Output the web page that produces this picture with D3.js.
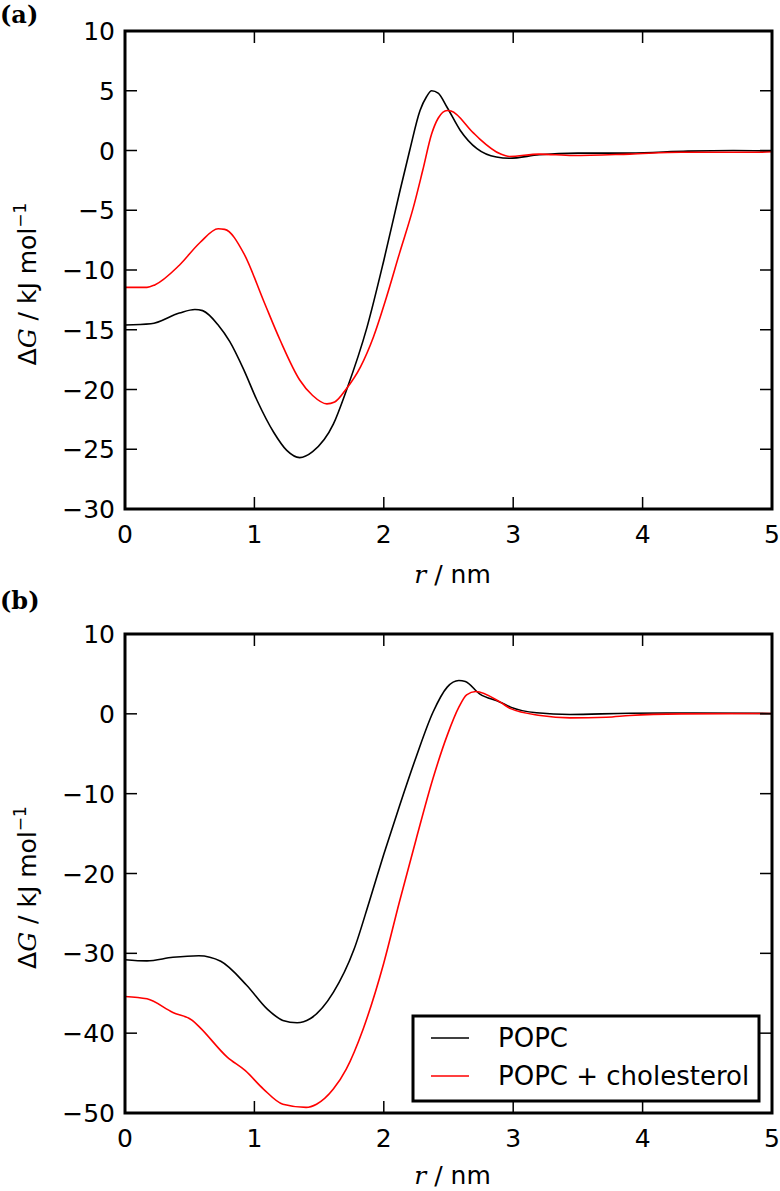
<!DOCTYPE html>
<html lang="en">
  <head>
    <meta charset="UTF-8" />
    <title>Free energy profiles</title>
    <script src="https://d3js.org/d3.v7.min.js"></script>
  </head>
  <style>
    body { margin: 0; background: white; }
    .curve { fill: none; stroke-width: 1.6; }
  </style>
  <body>
    <div id="chart"></div>
  </body>

  <script>
    // values: r in nm, dG in kJ/mol

    // panel (a)
    const rA_popc = [0, 0.2, 0.42, 0.54, 0.6, 0.72, 0.81, 0.92, 1.02, 1.15, 1.25, 1.35, 1.45, 1.61, 1.71, 1.87, 2.0, 2.12, 2.2, 2.28, 2.33, 2.37, 2.42, 2.49, 2.59, 2.72, 2.87, 2.97, 3.2, 3.5, 3.9, 4.35, 4.7, 5.0];
    const gA_popc = [-14.6, -14.5, -13.6, -13.3, -13.4, -14.6, -16.0, -18.4, -20.9, -23.6, -25.1, -25.7, -25.2, -22.9, -20.1, -14.8, -9.2, -3.6, 0, 3.35, 4.5, 5.0, 4.8, 3.6, 1.7, 0.15, -0.55, -0.65, -0.36, -0.22, -0.22, -0.05, 0.0, -0.05];

    const rA_chol = [0, 0.17, 0.23, 0.42, 0.58, 0.72, 0.77, 0.92, 1.07, 1.2, 1.35, 1.45, 1.56, 1.62, 1.71, 1.82, 1.92, 2.02, 2.12, 2.23, 2.3, 2.37, 2.42, 2.49, 2.52, 2.69, 2.74, 2.9, 2.97, 3.2, 3.46, 3.9, 4.3, 4.9, 5.0];
    const gA_chol = [-11.45, -11.45, -11.25, -9.6, -7.7, -6.55, -6.6, -8.65, -12.55, -15.9, -19.2, -20.5, -21.2, -21.05, -19.95, -18.1, -15.6, -12.3, -8.65, -4.7, -1.7, 1.4, 2.7, 3.35, 3.3, 1.5, 0.98, -0.28, -0.5, -0.3, -0.42, -0.3, -0.15, -0.15, -0.1];

    // panel (b)
    const rB_popc = [0, 0.17, 0.37, 0.57, 0.74, 0.94, 1.1, 1.22, 1.33, 1.43, 1.61, 1.77, 1.89, 2.0, 2.12, 2.25, 2.38, 2.49, 2.58, 2.63, 2.74, 2.9, 2.98, 3.18, 3.44, 3.9, 4.4, 5.0];
    const gB_popc = [-30.8, -30.95, -30.5, -30.3, -31.0, -34.0, -37.0, -38.4, -38.7, -38.2, -34.9, -29.5, -23.4, -17.6, -11.6, -5.4, 0.2, 3.35, 4.17, 4.05, 2.5, 1.46, 0.84, 0.13, -0.08, 0.08, 0.1, 0.05];

    const rB_chol = [0, 0.17, 0.37, 0.52, 0.58, 0.79, 0.93, 1.07, 1.22, 1.4, 1.48, 1.61, 1.71, 1.84, 2.0, 2.12, 2.25, 2.38, 2.49, 2.58, 2.64, 2.71, 2.9, 2.98, 3.21, 3.44, 3.72, 3.9, 4.3, 5.0];
    const gB_chol = [-35.4, -35.7, -37.4, -38.4, -39.3, -43.0, -44.7, -47.0, -48.9, -49.3, -48.9, -47.0, -44.5, -39.5, -31.2, -23.6, -15.7, -8.1, -2.7, 0.83, 2.38, 2.8, 1.46, 0.65, -0.2, -0.5, -0.42, -0.2, 0, 0.05];

    const xTicks = [0, 1, 2, 3, 4, 5];
    const yTicksA = [-30, -25, -20, -15, -10, -5, 0, 5, 10];
    const yTicksB = [-50, -40, -30, -20, -10, 0, 10];

    const seriesNames = ["POPC", "POPC + cholesterol"];
    const seriesColors = ["black", "#ff0000"];

    const W = 780, H = 1191;
    const left = 125, right = 772;
    const fontSize = 25;
    const tickLen = 12;
    const sans = "'DejaVu Sans', sans-serif";
    const serif = "'DejaVu Serif', serif";

    const svg = d3.select("#chart").append("svg")
      .attr("width", W).attr("height", H)
      .style("font-family", sans);

    const fmt = v => (v < 0 ? "\u2212" + Math.abs(v) : "" + v);

    function panel(opts) {
      const x = d3.scaleLinear().domain([0, 5]).range([left, right]);
      const y = d3.scaleLinear().domain(opts.yDomain).range([opts.bottom, opts.top]);
      const g = svg.append("g");

      // curves
      const line = d3.line()
        .x(d => x(d[0]))
        .y(d => y(d[1]))
        .curve(d3.curveMonotoneX);

      opts.series.forEach((s, i) => {
        const data = s.r.map((r, k) => [r, s.g[k]]);
        g.append("path")
          .attr("class", "curve")
          .attr("stroke", seriesColors[i])
          .attr("d", line(data));
      });

      // ticks on all four sides, pointing in
      xTicks.forEach(t => {
        g.append("line").attr("x1", x(t)).attr("x2", x(t))
          .attr("y1", opts.bottom).attr("y2", opts.bottom - tickLen)
          .attr("stroke", "black").attr("stroke-width", 1.5);
        g.append("line").attr("x1", x(t)).attr("x2", x(t))
          .attr("y1", opts.top).attr("y2", opts.top + tickLen)
          .attr("stroke", "black").attr("stroke-width", 1.5);
        g.append("text").attr("x", x(t)).attr("y", opts.bottom + 34)
          .attr("text-anchor", "middle").attr("font-size", fontSize)
          .text(fmt(t));
      });

      opts.yTicks.forEach(t => {
        g.append("line").attr("x1", left).attr("x2", left + tickLen)
          .attr("y1", y(t)).attr("y2", y(t))
          .attr("stroke", "black").attr("stroke-width", 1.5);
        g.append("line").attr("x1", right).attr("x2", right - tickLen)
          .attr("y1", y(t)).attr("y2", y(t))
          .attr("stroke", "black").attr("stroke-width", 1.5);
        g.append("text").attr("x", left - 10).attr("y", y(t))
          .attr("dy", "0.36em")
          .attr("text-anchor", "end").attr("font-size", fontSize)
          .text(fmt(t));
      });

      // frame
      g.append("rect")
        .attr("x", left).attr("y", opts.top)
        .attr("width", right - left).attr("height", opts.bottom - opts.top)
        .attr("fill", "none").attr("stroke", "black").attr("stroke-width", 3);

      // axis labels
      const xl = g.append("text")
        .attr("x", (left + right) / 2 + 4).attr("y", opts.xLabelY)
        .attr("text-anchor", "middle").attr("font-size", fontSize);
      xl.append("tspan").style("font-family", serif).style("font-style", "italic").text("r");
      xl.append("tspan").text(" / nm");

      const yc = (opts.top + opts.bottom) / 2 + 14;
      const yl = g.append("text")
        .attr("transform", "translate(36," + yc + ") rotate(-90)")
        .attr("text-anchor", "middle").attr("font-size", fontSize);
      yl.append("tspan").text("\u0394");
      yl.append("tspan").style("font-family", serif).style("font-style", "italic").text("G");
      yl.append("tspan").text(" / kJ mol");
      yl.append("tspan").attr("font-size", 17).attr("dy", -10).text("\u22121");

      // panel letter
      svg.append("text")
        .attr("x", 0).attr("y", opts.letterY)
        .style("font-family", serif).style("font-weight", "bold")
        .attr("font-size", 24)
        .text(opts.letter);

      return { x, y, g };
    }

    panel({
      top: 31, bottom: 509, yDomain: [-30, 10], yTicks: yTicksA,
      letter: "(a)", letterY: 23, xLabelY: 583,
      series: [{ r: rA_popc, g: gA_popc }, { r: rA_chol, g: gA_chol }]
    });

    const pb = panel({
      top: 634, bottom: 1113, yDomain: [-50, 10], yTicks: yTicksB,
      letter: "(b)", letterY: 609, xLabelY: 1184,
      series: [{ r: rB_popc, g: gB_popc }, { r: rB_chol, g: gB_chol }]
    });

    // legend in panel (b)
    const leg = pb.g.append("g");
    leg.append("rect")
      .attr("x", 413).attr("y", 1016).attr("width", 346).attr("height", 85)
      .attr("fill", "white").attr("stroke", "black").attr("stroke-width", 3);
    seriesNames.forEach((name, i) => {
      const ly = 1038 + i * 38;
      leg.append("line").attr("x1", 431).attr("x2", 469)
        .attr("y1", ly).attr("y2", ly)
        .attr("stroke", seriesColors[i]).attr("stroke-width", 1.6);
      leg.append("text").attr("x", 498).attr("y", ly + 9)
        .attr("font-size", 26).text(name);
    });
  </script>
</html>
